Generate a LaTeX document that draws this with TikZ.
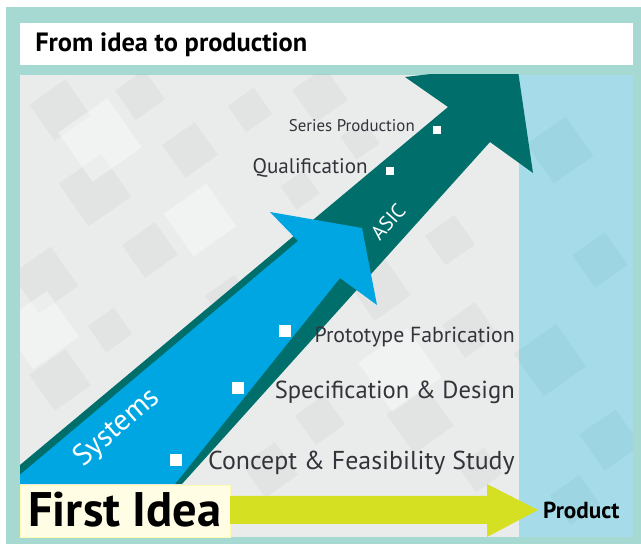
\documentclass[tikz,border=0pt]{standalone}
\usepackage{fontspec}
\setmainfont{PT Sans}
\usetikzlibrary{positioning}
\definecolor{framemint}{RGB}{166,217,209}
\definecolor{asicteal}{RGB}{0,111,108}
\definecolor{sysblue}{RGB}{0,166,226}
\definecolor{prodsky}{RGB}{166,220,233}
\definecolor{limegreen}{RGB}{212,224,33}
\definecolor{paper}{RGB}{234,236,236}
\definecolor{ideacream}{RGB}{255,253,228}
\definecolor{steptext}{RGB}{50,52,58}

\begin{document}
\begin{tikzpicture}[x=0.025cm, y=-0.025cm,
    dot/.style={fill=white, inner sep=0pt, minimum size=8.5pt},
    smalldot/.style={dot, minimum size=5.5pt},
    steplabel/.style={text=steptext, inner sep=0pt, anchor=base east},
    armlabel/.style={text=white, inner sep=0pt},
    tile/.style={fill=gray, opacity=0.07},
    skytile/.style={fill=asicteal, opacity=0.05}]
  \useasboundingbox (0,0) rectangle (641,544);
  \fill[framemint] (6,7) rectangle (641,544);
  \fill[white] (20,23) rectangle (633,65);
  \node[anchor=base west, inner sep=0pt, font=\bfseries\fontsize{18.8}{20}\selectfont] (title) at (35,52) {From idea to production};

  \begin{scope}
    \clip (20,75) rectangle (633,537);
    \fill[paper] (20,75) rectangle (633,537);
    \foreach \px/\py/\sz in {60/110/22, 140/95/18, 95/190/26, 190/150/20, 250/110/16, 320/95/20,
        45/280/24, 150/250/20, 230/300/18, 60/380/22, 300/190/14, 380/290/22, 450/240/18,
        470/330/20, 420/420/24, 320/420/18, 480/470/16, 270/470/20, 110/330/16, 360/140/14}
      \fill[tile, rotate around={35:(\px,\py)}] (\px-\sz,\py-\sz) rectangle (\px+\sz,\py+\sz);
    \foreach \px/\py/\sz in {100/140/30, 200/220/26, 40/330/28, 400/370/30, 300/260/22}
      \fill[white, opacity=0.35, rotate around={35:(\px,\py)}] (\px-\sz,\py-\sz) rectangle (\px+\sz,\py+\sz);
    \fill[prodsky] (519,75) rectangle (633,537);
    \foreach \px/\py/\sz in {560/150/24, 600/260/20, 550/360/26, 610/440/22, 575/500/18}
      \fill[skytile, rotate around={35:(\px,\py)}] (\px-\sz,\py-\sz) rectangle (\px+\sz,\py+\sz);

    \fill[asicteal] (14,470) -- (448,107) -- (405,77) -- (517,64) -- (533,173) -- (490,142) -- (182,484) -- (14,484) -- cycle;
    \fill[sysblue] (9,484) -- (298,241) -- (270,212) -- (362,228) -- (377,305) -- (340,278) -- (175,484) -- cycle;
  \end{scope}

  \node[armlabel, rotate=41, font=\fontsize{21}{21}\selectfont] (systems) at (117,428) {Systems};
  \node[armlabel, rotate=48, font=\fontsize{14.5}{15}\selectfont] (asic) at (388,222) {ASIC};

  \node[dot] (conceptdot) at (176,460) {};
  \node[steplabel, font=\fontsize{18.4}{20}\selectfont] (concept) at (515,470) {Concept \& Feasibility Study};
  \node[dot] (specdot) at (238,388) {};
  \node[steplabel, font=\fontsize{17.5}{19}\selectfont] (spec) at (515,399) {Specification \& Design};
  \node[dot] (protodot) at (285,331) {};
  \node[steplabel, font=\fontsize{15.5}{17}\selectfont] (proto) at (515,343) {Prototype Fabrication};
  \node[smalldot] (qualdot) at (390,171) {};
  \node[steplabel, font=\fontsize{15}{17}\selectfont] (qual) at (368,174) {Qualification};
  \node[smalldot] (seriesdot) at (437,130) {};
  \node[steplabel, font=\fontsize{12}{14}\selectfont] (series) at (415,132) {Series Production};

  \fill[ideacream] (20,485) rectangle (230,537);
  \draw[yellow!30] (20.5,485.5) rectangle (230,537);
  \node[anchor=base west, inner sep=0pt, font=\bfseries\fontsize{34.5}{35}\selectfont] (idea) at (28,527) {First Idea};

  \fill[limegreen] (230,496) -- (487,496) -- (487,484) -- (538,510) -- (487,537) -- (487,524) -- (230,524) -- cycle;
  \coordinate (tip) at (538,510);
  \node[right=3.5pt of tip, inner sep=0pt, font=\bfseries\fontsize{16.5}{17}\selectfont] (product) {Product};
\end{tikzpicture}
\end{document}
